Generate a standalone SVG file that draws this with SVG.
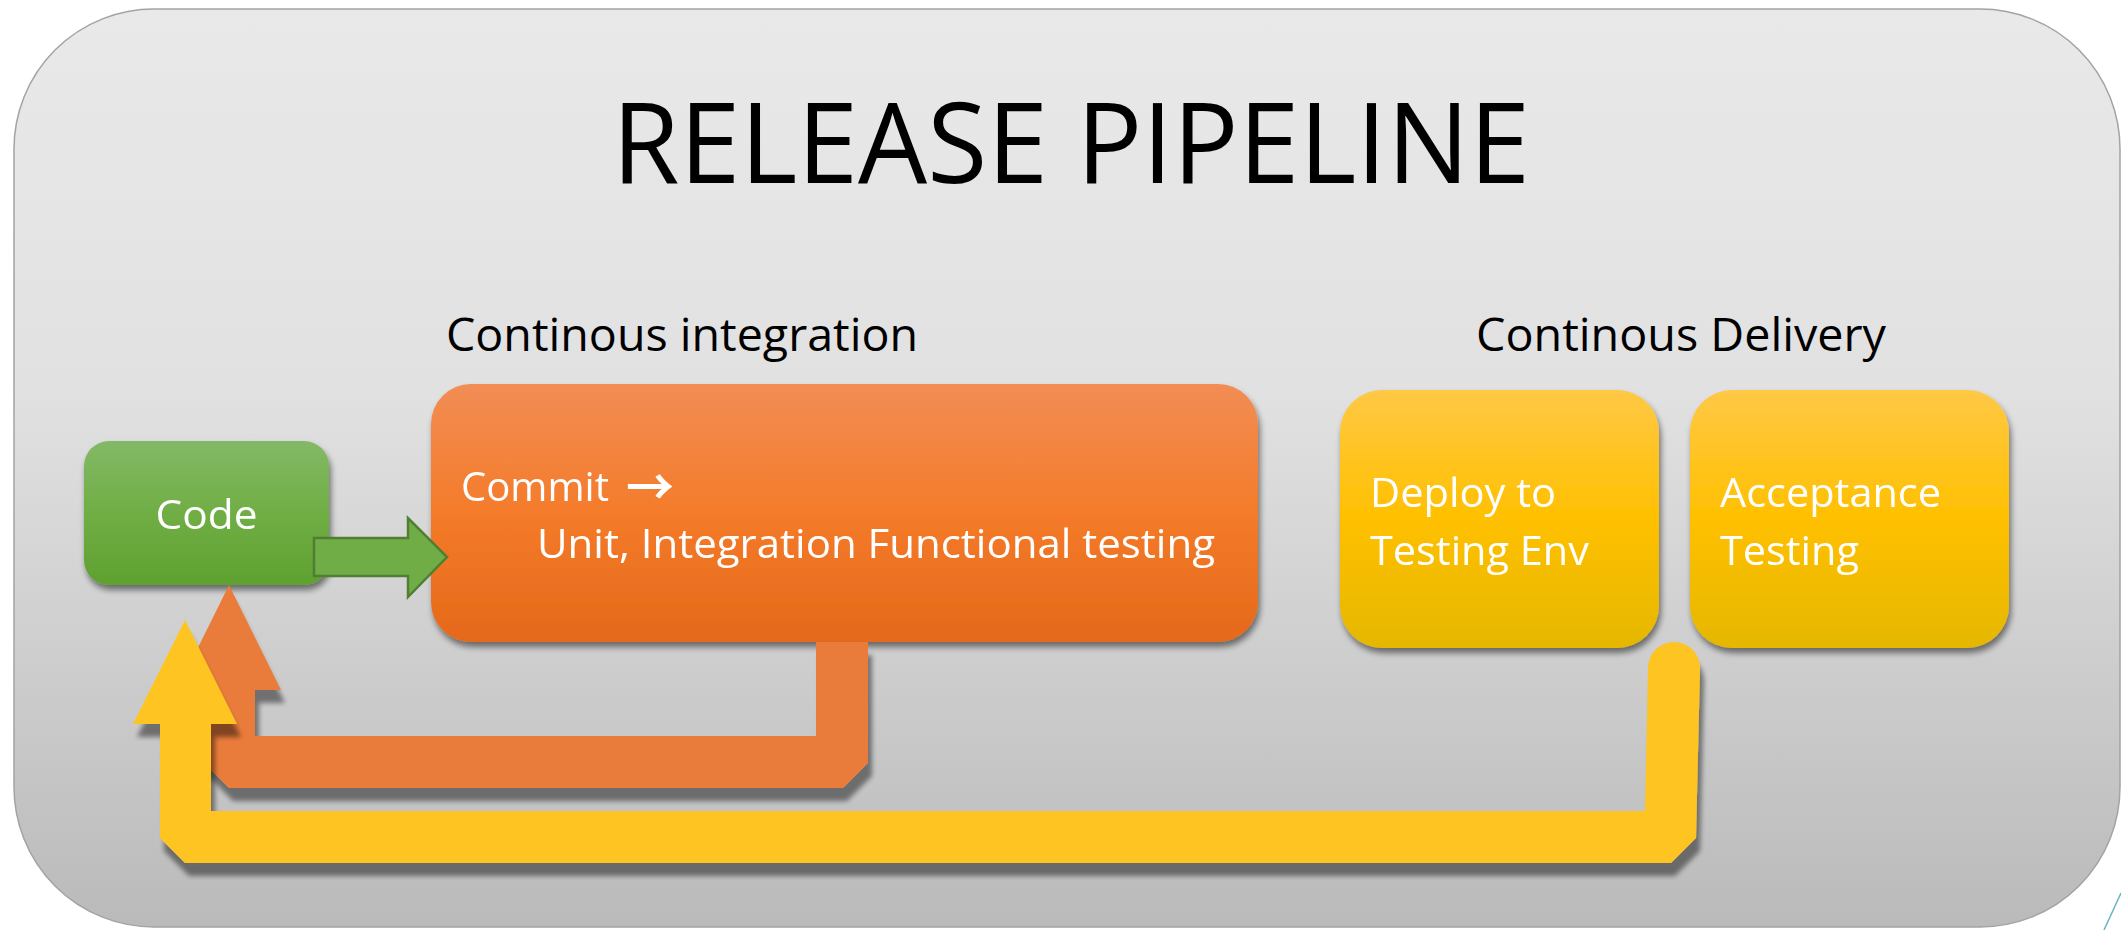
<svg xmlns="http://www.w3.org/2000/svg" width="2121" height="930" viewBox="0 0 2121 930">
  <defs>
    <linearGradient id="bgGrad" x1="0" y1="0" x2="0" y2="1">
      <stop offset="0" stop-color="#e9e9e9"/>
      <stop offset="0.42" stop-color="#e1e1e1"/>
      <stop offset="1" stop-color="#bababa"/>
    </linearGradient>
    <linearGradient id="greenGrad" x1="0" y1="0" x2="0" y2="1">
      <stop offset="0" stop-color="#83b966"/>
      <stop offset="0.5" stop-color="#70ae45"/>
      <stop offset="1" stop-color="#5fa130"/>
    </linearGradient>
    <linearGradient id="orangeGrad" x1="0" y1="0" x2="0" y2="1">
      <stop offset="0" stop-color="#f28d55"/>
      <stop offset="0.5" stop-color="#f47b2a"/>
      <stop offset="1" stop-color="#e5691a"/>
    </linearGradient>
    <linearGradient id="goldGrad" x1="0" y1="0" x2="0" y2="1">
      <stop offset="0" stop-color="#ffc845"/>
      <stop offset="0.5" stop-color="#ffc000"/>
      <stop offset="1" stop-color="#e5b700"/>
    </linearGradient>
    <filter id="boxShadow" x="-10%" y="-10%" width="125%" height="130%">
      <feGaussianBlur in="SourceAlpha" stdDeviation="3"/>
      <feOffset dx="2" dy="5" result="b"/>
      <feComponentTransfer><feFuncA type="linear" slope="0.5"/></feComponentTransfer>
      <feMerge><feMergeNode/><feMergeNode in="SourceGraphic"/></feMerge>
    </filter>
    <filter id="arrowShadow" x="-10%" y="-10%" width="125%" height="130%">
      <feGaussianBlur in="SourceAlpha" stdDeviation="2.5"/>
      <feOffset dx="4" dy="13" result="b"/>
      <feComponentTransfer><feFuncA type="linear" slope="0.45"/></feComponentTransfer>
      <feMerge><feMergeNode/><feMergeNode in="SourceGraphic"/></feMerge>
    </filter>
    <style>
      .ttl { font-family: "Open Sans", "Liberation Sans", sans-serif; fill: #000; }
      .lbl { font-family: "Open Sans", "Liberation Sans", sans-serif; font-size: 46px; fill: #000; }
      .in  { font-family: "Open Sans", "Liberation Sans", sans-serif; font-size: 41px; fill: #fff; }
      .sym { font-family: "Noto Sans CJK SC", "DejaVu Sans", sans-serif; font-size: 50px; font-weight: 700; fill: #fff; }
    </style>
  </defs>

  <!-- pipeline panel -->
  <rect x="14" y="9" width="2106" height="918" rx="140" ry="140" fill="url(#bgGrad)" stroke="#a3a3a3" stroke-width="1.5"/>
  <line x1="2121" y1="893" x2="2104" y2="930" stroke="#6ab4bd" stroke-width="1.5"/>

  <text class="ttl" x="612" y="183" font-size="112" textLength="918" lengthAdjust="spacingAndGlyphs">RELEASE PIPELINE</text>
  <text class="lbl" x="446" y="351" textLength="472" lengthAdjust="spacingAndGlyphs">Continous integration</text>
  <text class="lbl" x="1476" y="351" textLength="410" lengthAdjust="spacingAndGlyphs">Continous Delivery</text>

  <!-- stages -->
  <g id="code" filter="url(#boxShadow)">
    <rect x="84" y="441" width="245" height="144" rx="25" ry="25" fill="url(#greenGrad)"/>
    <text class="in" x="206.5" y="529" text-anchor="middle" textLength="102" lengthAdjust="spacingAndGlyphs">Code</text>
  </g>

  <g id="ci" filter="url(#boxShadow)">
    <rect x="431" y="384" width="827" height="258" rx="40" ry="40" fill="url(#orangeGrad)"/>
    <text class="in" x="461" y="501" textLength="148" lengthAdjust="spacingAndGlyphs">Commit</text>
    <text class="sym" x="626" y="505" textLength="48" lengthAdjust="spacingAndGlyphs">→</text>
    <text class="in" x="537" y="558" textLength="678" lengthAdjust="spacingAndGlyphs">Unit, Integration Functional testing</text>
  </g>

  <g id="deploy" filter="url(#boxShadow)">
    <rect x="1340" y="390" width="319" height="258" rx="42" ry="42" fill="url(#goldGrad)"/>
    <text class="in" x="1370" y="507" textLength="186" lengthAdjust="spacingAndGlyphs">Deploy to</text>
    <text class="in" x="1370" y="565" textLength="219" lengthAdjust="spacingAndGlyphs">Testing Env</text>
  </g>

  <g id="acceptance" filter="url(#boxShadow)">
    <rect x="1690" y="390" width="319" height="258" rx="42" ry="42" fill="url(#goldGrad)"/>
    <text class="in" x="1720" y="507" textLength="221" lengthAdjust="spacingAndGlyphs">Acceptance</text>
    <text class="in" x="1720" y="565" textLength="139" lengthAdjust="spacingAndGlyphs">Testing</text>
  </g>

  <!-- connectors -->
  <g id="connectors">
    <!-- CI feedback loop back to code -->
    <path filter="url(#arrowShadow)" fill="#e97c3b"
          d="M229,585 L281,690 L255,690 L255,736 L816,736 L816,642 L868,642 L868,763 L843,788 L229,788 L204,763 L204,690 L177,690 Z"/>
    <!-- acceptance feedback loop back to code -->
    <path filter="url(#arrowShadow)" fill="#fec520"
          d="M185,620 L237,724 L211,724 L211,811 L1645,811 L1648,668 A26,26 0 0 1 1700,668 L1696,838 L1671,863 L185,863 L160,838 L160,724 L133,724 Z"/>
    <!-- code to commit -->
    <path fill="#70ad47" stroke="#507e32" stroke-width="2.5" stroke-linejoin="miter"
          d="M314,538 L408,538 L408,518 L447,557 L408,597 L408,576 L314,576 Z"/>
  </g>
</svg>
